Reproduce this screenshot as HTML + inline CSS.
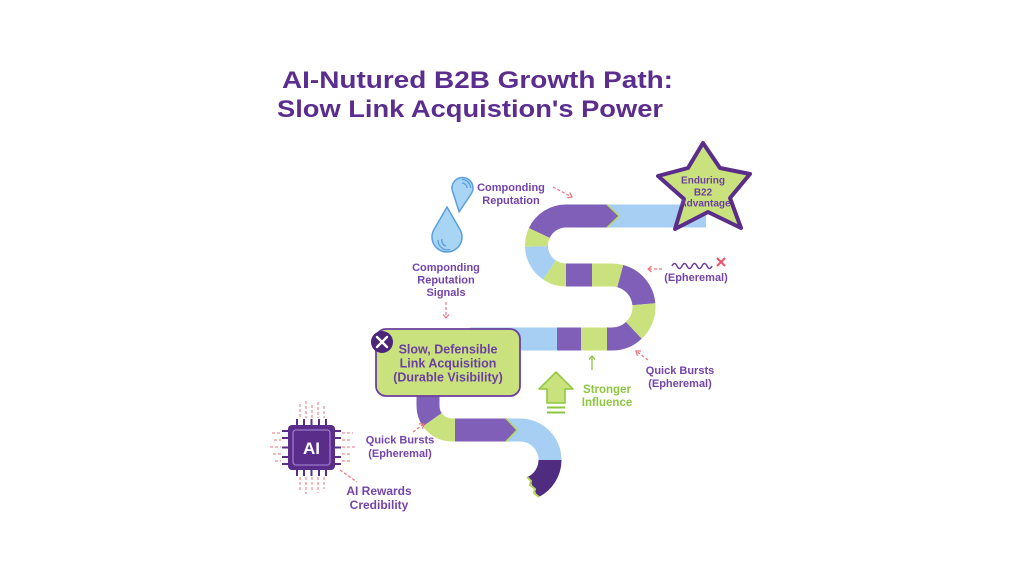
<!DOCTYPE html>
<html><head><meta charset="utf-8"><style>
html,body{margin:0;padding:0;background:#fff;}
svg{display:block;}
text{font-family:"Liberation Sans",Arial,sans-serif;font-weight:bold;}
</style></head><body>
<svg width="1024" height="576" viewBox="0 0 1024 576" xmlns="http://www.w3.org/2000/svg">
<rect width="1024" height="576" fill="#fff"/>
<!-- Title -->
<text x="282" y="88" font-size="24.5" fill="#5b2d8e" textLength="391" lengthAdjust="spacingAndGlyphs">AI-Nutured B2B Growth Path:</text>
<text x="277" y="117" font-size="24.5" fill="#5b2d8e" textLength="386" lengthAdjust="spacingAndGlyphs">Slow Link Acquistion's Power</text>

<!-- PATH BAND -->
<g fill="none" stroke-width="23" stroke-linecap="butt">
  <path d="M608 216 L706 216" stroke="#a6cff3"/>
  <path d="M608 216 L566 216 A29.5 29.5 0 0 0 539.26 233.03" stroke="#7f5fb8"/>
  <path d="M539.26 233.03 A29.5 29.5 0 0 0 536.52 246.53" stroke="#c9e27d"/>
  <path d="M536.52 246.53 A29.5 29.5 0 0 0 549.5 269.96" stroke="#a6cff3"/>
  <path d="M549.5 269.96 A29.5 29.5 0 0 0 566 275 L567 275" stroke="#c9e27d"/>
  <path d="M566 275 L592 275" stroke="#7f5fb8"/>
  <path d="M592 275 L612 275 A32 32 0 0 1 620.28 276.09" stroke="#c9e27d"/>
  <path d="M620.28 276.09 A32 32 0 0 1 643.88 304.21" stroke="#7f5fb8"/>
  <path d="M643.88 304.21 A32 32 0 0 1 633.82 330.4" stroke="#c9e27d"/>
  <path d="M633.82 330.4 A32 32 0 0 1 612 339 L607 339" stroke="#7f5fb8"/>
  <path d="M607 339 L581 339" stroke="#c9e27d"/>
  <path d="M581 339 L557 339" stroke="#7f5fb8"/>
  <path d="M557 339 L470 339" stroke="#a6cff3"/>
  <path d="M428 385 L428 406 A24 24 0 0 0 432.34 419.77" stroke="#7f5fb8"/>
  <path d="M432.34 419.77 A24 24 0 0 0 452 430 L455 430" stroke="#c9e27d"/>
  <path d="M455 430 L507 430" stroke="#7f5fb8"/>
  <path d="M507 430 L520 430 A30 30 0 0 1 550 460" stroke="#a6cff3"/>
  <path d="M550 460 A30 30 0 0 1 533 487" stroke="#4f2c7f"/>
</g>
<polygon points="607,204.5 619,216 607,227.5" fill="#7f5fb8"/>
<polyline points="607,204.5 619,216 607,227.5" fill="none" stroke="#b5d65a" stroke-width="1.5"/>
<polygon points="506,418.5 517,430 506,441.5" fill="#7f5fb8"/>
<polyline points="506,418.5 517,430 506,441.5" fill="none" stroke="#b5d65a" stroke-width="1.5"/>
<polyline points="527,477 531,481 530,485 535,489 534,493 539,497" fill="none" stroke="#b5d65a" stroke-width="2"/>

<!-- Star -->
<polygon points="703,143 720,168 750,174 730,198 741,228 708,212 675,229 684,199 658,176 688,168" fill="#c9e27d" stroke="#5a2d8a" stroke-width="4" stroke-linejoin="round"/>
<g font-size="10" fill="#6b3fa0" text-anchor="middle">
<text x="703" y="183.5">Enduring</text>
<text x="703" y="195.5">B22</text>
<text x="705" y="206.5">Advantage</text>
</g>

<!-- Box -->
<rect x="376" y="329" width="144" height="67" rx="10" fill="#c9e27d" stroke="#6b3fa0" stroke-width="1.8"/>
<circle cx="382" cy="342" r="11" fill="#4b2577"/>
<path d="M377 337 L387 347 M387 337 L377 347" stroke="#fff" stroke-width="2.4" stroke-linecap="round"/>
<g font-size="12.5" fill="#6b3fa0" text-anchor="middle">
<text x="448" y="353.5">Slow, Defensible</text>
<text x="448" y="367.5">Link Acquisition</text>
<text x="448" y="381.5">(Durable Visibility)</text>
</g>

<!-- Droplets -->
<g fill="#a9d5f5" stroke="#5a9fe0" stroke-width="1.5">
<path transform="translate(462.5,188) rotate(8)" d="M0 24 L-9.44 4.59 A10.5 10.5 0 1 1 9.44 4.59 Z"/>
<path transform="translate(447,237)" d="M0 -30 L12.99 -7.5 A15 15 0 1 1 -12.99 -7.5 Z"/>
</g>
<g fill="none" stroke="#5a9fe0" stroke-width="1.3">
<path d="M462 183 A5 5 0 0 1 467 188"/>
<path d="M462 179.5 A8.5 8.5 0 0 1 470.5 188"/>
<path d="M446 246 A5.5 5.5 0 0 1 442 239"/>
<path d="M450 249.5 A9.5 9.5 0 0 1 438 240"/>
</g>

<!-- Labels -->
<g font-size="11" fill="#7444ab" text-anchor="middle">
<text x="511" y="191">Componding</text>
<text x="511" y="204">Reputation</text>
<text x="446" y="271">Componding</text>
<text x="446" y="283.5">Reputation</text>
<text x="446" y="296">Signals</text>
<text x="696" y="281">(Epheremal)</text>
<text x="680" y="374">Quick Bursts</text>
<text x="680" y="387">(Epheremal)</text>
<text x="400" y="443.5">Quick Bursts</text>
<text x="400" y="457">(Epheremal)</text>
</g>
<g font-size="12" fill="#7444ab" text-anchor="middle">
<text x="379" y="495">AI Rewards</text>
<text x="379" y="509">Credibility</text>
</g>
<g font-size="11.5" fill="#8dc63f" text-anchor="middle">
<text x="607" y="393">Stronger</text>
<text x="607" y="406">Influence</text>
</g>

<!-- Dashed arrows -->
<g fill="none" stroke="#f0707f" stroke-width="1.2">
<path d="M553 187 L572 197" stroke-dasharray="3 2"/>
<polyline points="569.9,192.5 572,197 567.1,197.8"/>
<path d="M446 302 L446 318" stroke-dasharray="3 2"/>
<polyline points="443,314.5 446,318 449,314.5"/>
<path d="M662 269 L648 269" stroke-dasharray="3 2"/>
<polyline points="651.5,266 648,269 651.5,272"/>
<path d="M648 360 L636 351" stroke-dasharray="3 2"/>
<polyline points="641,351 636,351 637.4,355.8"/>
<path d="M413 432 L424 424" stroke-dasharray="3 2"/>
<polyline points="419,423.9 424,424 422.5,428.8"/>
<path d="M340 470 L357 482" stroke-dasharray="3 2"/>
</g>

<path d="M672 266 q2.5 -5 5 0 t5 0 t5 0 t5 0 t5 0 t5 0 t5 0 t5 0" fill="none" stroke="#6b3fa0" stroke-width="1.5"/>
<path d="M717 258 L725 266 M725 258 L717 266" stroke="#f0506a" stroke-width="2"/>

<path d="M592 370 L592 356" stroke="#8dc63f" stroke-width="1.3"/>
<polyline points="589,359.5 592,356 595,359.5" fill="none" stroke="#8dc63f" stroke-width="1.3"/>
<polygon points="556,372 573,389 565,389 565,403 547,403 547,389 539,389" fill="#c9e27d" stroke="#8dc63f" stroke-width="1.5" stroke-linejoin="round"/>
<path d="M547 407.5 L565 407.5 M547 412.5 L565 412.5" stroke="#8dc63f" stroke-width="2"/>

<!-- AI chip -->
<g stroke="#f0707f" stroke-width="1" stroke-dasharray="3 2" fill="none">
<path d="M300 404 V418 M306 401 V418 M312 405 V418 M318 402 V418 M324 406 V418"/>
<path d="M300 477 V491 M306 477 V494 M312 477 V490 M318 477 V493 M324 477 V489"/>
<path d="M272 433 H281 M274 440 H281 M270 447 H281 M273 454 H281 M275 461 H281"/>
<path d="M342 433 H353 M342 440 H351 M342 447 H355 M342 454 H352 M342 461 H350"/>
</g>
<g stroke="#5a2d8a" stroke-width="2">
<path d="M297 419 V425 M304 419 V425 M311.5 419 V425 M319 419 V425 M326 419 V425"/>
<path d="M297 470 V476 M304 470 V476 M311.5 470 V476 M319 470 V476 M326 470 V476"/>
<path d="M282 431 H288 M282 438 H288 M282 447.5 H288 M282 457 H288 M282 464 H288"/>
<path d="M335 431 H341 M335 438 H341 M335 447.5 H341 M335 457 H341 M335 464 H341"/>
</g>
<rect x="288" y="425" width="47" height="45" rx="4" fill="#5a2d8a"/>
<rect x="293" y="430" width="37" height="35" rx="3" fill="none" stroke="#9a78c8" stroke-width="1.3"/>
<text x="311.5" y="454" font-size="17" fill="#fff" text-anchor="middle">AI</text>
</svg>
</body></html>
